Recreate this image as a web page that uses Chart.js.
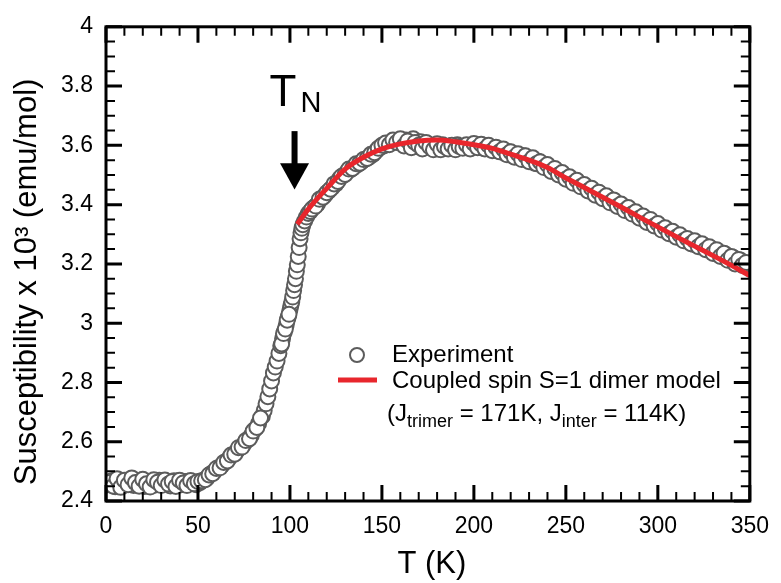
<!DOCTYPE html>
<html>
<head>
<meta charset="utf-8">
<script src="https://cdn.jsdelivr.net/npm/chart.js@4.4.1/dist/chart.umd.min.js"></script>
<style>
  html, body { margin: 0; padding: 0; background: #fff; }
  #wrap { width: 781px; height: 583px; }
</style>
</head>
<body>
<div id="wrap"><canvas id="chiChart" width="781" height="583"></canvas></div>
<script>
// measured susceptibility (T in K, chi x 10^3 emu/mol), two sweeps
const expT = [
  1, 3, 5, 7, 9, 11, 13, 15, 17, 19, 21, 23, 25, 27, 29, 31, 33, 35, 37, 39, 41, 43, 45, 47, 49,
  51, 53, 55, 57, 59, 61, 63, 65, 67, 69, 71, 73, 75, 77, 79, 81, 83, 85,
  86, 87, 88, 89, 90, 91, 92, 93, 94, 95, 96, 97, 98, 99, 100, 100.5, 101, 101.5, 102, 102.5,
  103, 103.5, 104, 104.5, 105, 105.5, 106, 106.5, 107, 108, 109, 110,
  111, 113, 115, 117, 119, 121, 123, 125, 127, 129, 131, 133, 135, 137, 139, 141, 143, 145, 147, 149,
  151, 153, 155, 157, 159, 161, 163, 165, 167, 169, 171, 173, 175, 177, 179, 181, 183, 185, 187, 189,
  191, 193, 195, 197, 199, 201, 203, 205, 207, 209, 211, 213, 215, 217, 219, 221, 223, 225, 227, 229,
  231, 233, 235, 237, 239, 241, 243, 245, 247, 249, 251, 253, 255, 257, 259, 261, 263, 265, 267, 269,
  271, 273, 275, 277, 279, 281, 283, 285, 287, 289, 291, 293, 295, 297, 299, 301, 303, 305, 307, 309,
  311, 313, 315, 317, 319, 321, 323, 325, 327, 329, 331, 333, 335, 337, 339, 341, 343, 345, 347, 349,
  2, 4, 6, 8, 10, 12, 14, 16, 18, 20, 22, 24, 26, 28, 30, 32, 34, 36, 38, 40, 42, 44, 46, 48, 50,
  52, 54, 56, 58, 60, 62, 64, 66, 68, 70, 72, 74, 76, 78, 80, 82, 84,
  95.5, 96.5, 97.5, 98.5, 99.5,
  112, 114, 116, 118, 120, 122, 124, 126, 128, 130, 132, 134, 136, 138, 140, 142, 144, 146, 148, 150,
  152, 154, 156, 158, 160, 162, 164, 166, 168, 170, 172, 174, 176, 178, 180, 182, 184, 186, 188, 190,
  192, 194, 196, 198, 200, 202, 204, 206, 208, 210, 212, 214, 216, 218, 220, 222, 224, 226, 228, 230,
  232, 234, 236, 238, 240, 242, 244, 246, 248, 250, 252, 254, 256, 258, 260, 262, 264, 266, 268, 270,
  272, 274, 276, 278, 280, 282, 284, 286, 288, 290, 292, 294, 296, 298, 300, 302, 304, 306, 308, 310,
  312, 314, 316, 318, 320, 322, 324, 326, 328, 330, 332, 334, 336, 338, 340, 342, 344, 346, 348
];
const expChi = [
  2.455, 2.468, 2.448, 2.472, 2.458, 2.463, 2.470, 2.452, 2.466, 2.459, 2.449, 2.467, 2.461, 2.454, 2.470,
  2.458, 2.463, 2.451, 2.468, 2.460, 2.455, 2.466, 2.457, 2.462, 2.455,
  2.462, 2.470, 2.478, 2.492, 2.500, 2.512, 2.520, 2.532, 2.545, 2.556, 2.568, 2.580, 2.592, 2.606, 2.622,
  2.642, 2.662, 2.686,
  2.705, 2.728, 2.752, 2.778, 2.805, 2.832, 2.852, 2.872, 2.898, 2.924, 2.948, 2.972, 2.995, 3.020, 3.045,
  3.060, 3.072, 3.088, 3.110, 3.130, 3.150, 3.175, 3.197, 3.225, 3.255, 3.285, 3.305, 3.320, 3.332, 3.345,
  3.358, 3.370,
  3.377, 3.390, 3.402, 3.420, 3.432, 3.445, 3.458, 3.470, 3.488, 3.498, 3.510, 3.518, 3.528, 3.535, 3.545,
  3.553, 3.560, 3.568, 3.582, 3.592,
  3.598, 3.603, 3.608, 3.612, 3.615, 3.608, 3.618, 3.600, 3.622, 3.596, 3.612, 3.594, 3.605, 3.590, 3.600,
  3.588, 3.602, 3.592, 3.598, 3.590,
  3.602, 3.593, 3.598, 3.592, 3.598, 3.596, 3.600, 3.590, 3.598, 3.586, 3.592, 3.582, 3.586, 3.572, 3.578,
  3.565, 3.570, 3.558, 3.565, 3.550,
  3.555, 3.540, 3.546, 3.535, 3.530, 3.528, 3.515, 3.515, 3.505, 3.500, 3.488, 3.486, 3.478, 3.474, 3.462,
  3.460, 3.452, 3.448, 3.434, 3.435,
  3.425, 3.422, 3.408, 3.410, 3.398, 3.395, 3.385, 3.382, 3.370, 3.368, 3.358, 3.355, 3.342, 3.342, 3.332,
  3.328, 3.318, 3.315, 3.305, 3.302,
  3.292, 3.290, 3.278, 3.276, 3.266, 3.270, 3.262, 3.262, 3.250, 3.252, 3.240, 3.242, 3.228, 3.232, 3.218,
  3.222, 3.208, 3.212, 3.198, 3.200,
  2.462, 2.450, 2.475, 2.446, 2.470, 2.455, 2.478, 2.462, 2.450, 2.473, 2.458, 2.447, 2.472, 2.463, 2.452,
  2.471, 2.457, 2.466, 2.449, 2.470, 2.461, 2.452, 2.469, 2.458, 2.466,
  2.468, 2.472, 2.488, 2.492, 2.510, 2.512, 2.530, 2.535, 2.555, 2.558, 2.580, 2.582, 2.604, 2.610, 2.636,
  2.648, 2.680,
  2.930, 2.965, 2.980, 3.010, 3.030,
  3.385, 3.395, 3.418, 3.425, 3.440, 3.452, 3.470, 3.478, 3.495, 3.502, 3.520, 3.522, 3.538, 3.540, 3.552,
  3.556, 3.570, 3.575, 3.590, 3.600,
  3.608, 3.602, 3.618, 3.610, 3.622, 3.598, 3.615, 3.592, 3.610, 3.600, 3.588, 3.610, 3.595, 3.585, 3.605,
  3.585, 3.596, 3.588, 3.600, 3.585,
  3.596, 3.590, 3.602, 3.588, 3.606, 3.592, 3.604, 3.588, 3.600, 3.582, 3.594, 3.578, 3.588, 3.568, 3.578,
  3.560, 3.572, 3.552, 3.565, 3.545,
  3.558, 3.538, 3.545, 3.525, 3.535, 3.512, 3.522, 3.500, 3.508, 3.486, 3.494, 3.472, 3.482, 3.460, 3.468,
  3.446, 3.455, 3.432, 3.442, 3.420,
  3.430, 3.406, 3.416, 3.394, 3.402, 3.380, 3.390, 3.368, 3.376, 3.354, 3.362, 3.340, 3.350, 3.328, 3.336,
  3.314, 3.322, 3.302, 3.310, 3.290,
  3.298, 3.278, 3.286, 3.268, 3.278, 3.258, 3.268, 3.248, 3.258, 3.235, 3.248, 3.225, 3.236, 3.212, 3.225,
  3.200, 3.215, 3.195, 3.205
];

// coupled spin S=1 dimer model curve
const fitT = [104, 110, 120, 130, 140, 150, 160, 170, 180, 190, 200, 210, 220, 230, 240,
  250, 260, 270, 280, 290, 300, 310, 320, 330, 340, 350];
const fitChi = [3.334, 3.385, 3.455, 3.520, 3.560, 3.588, 3.605, 3.615, 3.618, 3.612, 3.602, 3.590,
  3.570, 3.550, 3.525, 3.490, 3.458, 3.425, 3.392, 3.358, 3.325, 3.292, 3.260, 3.228, 3.195, 3.160];

const xTicks = [0, 50, 100, 150, 200, 250, 300, 350];
const yTicks = [2.4, 2.6, 2.8, 3, 3.2, 3.4, 3.6, 3.8, 4];
const yTickLabels = ['2.4', '2.6', '2.8', '3', '3.2', '3.4', '3.6', '3.8', '4'];
const xTitle = 'T (K)';
const yTitle = 'Susceptibility x 10³ (emu/mol)';
const TN = 102.5;

const FONT = '"Liberation Sans", Arial, Helvetica, sans-serif';

// box with inward ticks on all four sides, plus the axis titles
const frame = {
  id: 'frame',
  afterDraw(chart) {
    const { ctx, chartArea: a, scales: { x, y } } = chart;
    ctx.save();
    ctx.strokeStyle = '#000';
    ctx.lineWidth = 2;
    ctx.beginPath();
    for (let v = 10; v < 350; v += 10) {
      if (v % 50 === 0) continue;
      const px = x.getPixelForValue(v);
      ctx.moveTo(px, a.bottom); ctx.lineTo(px, a.bottom - 9);
      ctx.moveTo(px, a.top); ctx.lineTo(px, a.top + 9);
    }
    for (let k = 1; k < 32; k++) {
      if (k % 4 === 0) continue;
      const py = y.getPixelForValue(2.4 + k * 0.05);
      ctx.moveTo(a.left, py); ctx.lineTo(a.left + 9, py);
      ctx.moveTo(a.right, py); ctx.lineTo(a.right - 9, py);
    }
    ctx.stroke();

    ctx.lineWidth = 3;
    ctx.beginPath();
    xTicks.forEach(v => {
      const px = x.getPixelForValue(v);
      ctx.moveTo(px, a.bottom); ctx.lineTo(px, a.bottom - 16);
      ctx.moveTo(px, a.top); ctx.lineTo(px, a.top + 16);
    });
    yTicks.forEach(v => {
      const py = y.getPixelForValue(v);
      ctx.moveTo(a.left, py); ctx.lineTo(a.left + 16, py);
      ctx.moveTo(a.right, py); ctx.lineTo(a.right - 16, py);
    });
    ctx.stroke();
    ctx.strokeRect(a.left, a.top, a.right - a.left, a.bottom - a.top);

    ctx.fillStyle = '#000';
    ctx.font = '31px ' + FONT;
    ctx.textAlign = 'center';
    ctx.textBaseline = 'middle';
    ctx.fillText(xTitle, (a.left + a.right) / 2 + 4, 564);
    ctx.translate(27, (a.top + a.bottom) / 2 + 18);
    ctx.rotate(-Math.PI / 2);
    ctx.fillText(yTitle, 0, 0);
    ctx.restore();
  }
};

// T_N arrow and the legend box
const notes = {
  id: 'notes',
  afterDraw(chart) {
    const { ctx, scales: { x, y } } = chart;
    ctx.save();
    ctx.fillStyle = '#000';
    ctx.textBaseline = 'alphabetic';

    const ax = x.getPixelForValue(TN);
    ctx.font = '44px ' + FONT;
    ctx.fillText('T', ax - 25, y.getPixelForValue(3.732));
    ctx.font = '29px ' + FONT;
    ctx.fillText('N', ax + 6, y.getPixelForValue(3.713));

    const top = y.getPixelForValue(3.648);
    const headTop = y.getPixelForValue(3.54);
    const tip = y.getPixelForValue(3.451);
    ctx.fillRect(ax - 3, top, 6, headTop - top + 2);
    ctx.beginPath();
    ctx.moveTo(ax - 14.5, headTop);
    ctx.lineTo(ax + 14.5, headTop);
    ctx.lineTo(ax, tip);
    ctx.closePath();
    ctx.fill();

    // legend
    ctx.beginPath();
    ctx.arc(357, 355, 7, 0, Math.PI * 2);
    ctx.fillStyle = '#fff';
    ctx.fill();
    ctx.lineWidth = 2;
    ctx.strokeStyle = '#5c5c5c';
    ctx.stroke();

    ctx.beginPath();
    ctx.moveTo(338, 380);
    ctx.lineTo(377, 380);
    ctx.lineWidth = 5;
    ctx.strokeStyle = '#e8262c';
    ctx.stroke();

    ctx.fillStyle = '#000';
    ctx.font = '24px ' + FONT;
    ctx.textBaseline = 'middle';
    ctx.fillText('Experiment', 392, 355);
    ctx.fillText('Coupled spin S=1 dimer model', 392, 381);

    ctx.textBaseline = 'alphabetic';
    const parts = [
      ['(J', 0, 24], ['trimer', 6, 18], [' = 171K, J', 0, 24], ['inter', 6, 18], [' = 114K)', 0, 24]
    ];
    let tx = 387;
    parts.forEach(([txt, dy, size]) => {
      ctx.font = size + 'px ' + FONT;
      ctx.fillText(txt, tx, 421 + dy);
      tx += ctx.measureText(txt).width;
    });
    ctx.restore();
  }
};

const expPoints = expT.map((t, i) => ({ x: t, y: expChi[i] }));
const fitPoints = fitT.map((t, i) => ({ x: t, y: fitChi[i] }));

new Chart(document.getElementById('chiChart'), {
  type: 'scatter',
  data: {
    datasets: [
      {
        type: 'line',
        label: 'Coupled spin S=1 dimer model',
        data: fitPoints,
        borderColor: '#e8262c',
        borderWidth: 5,
        pointRadius: 0,
        fill: false,
        cubicInterpolationMode: 'monotone',
        order: 0
      },
      {
        label: 'Experiment',
        data: expPoints,
        pointRadius: 7.5,
        pointHoverRadius: 7.5,
        pointBorderWidth: 2,
        pointBorderColor: '#5c5c5c',
        pointBackgroundColor: '#fff',
        order: 1
      }
    ]
  },
  options: {
    responsive: false,
    animation: false,
    devicePixelRatio: 1,
    layout: { padding: { left: 0, right: 21, top: 23, bottom: 0 } },
    plugins: { legend: { display: false }, tooltip: { enabled: false } },
    scales: {
      x: {
        type: 'linear',
        min: 0,
        max: 350,
        afterBuildTicks: s => { s.ticks = xTicks.map(v => ({ value: v })); },
        afterFit: s => { s.height = 82; },
        grid: { display: false, drawTicks: false },
        border: { display: false },
        ticks: {
          padding: 12,
          maxRotation: 0,
          autoSkip: false,
          color: '#000',
          font: { family: FONT, size: 23 },
          callback: v => String(v)
        }
      },
      y: {
        type: 'linear',
        min: 2.4,
        max: 4,
        afterBuildTicks: s => { s.ticks = yTicks.map(v => ({ value: v })); },
        afterFit: s => { s.width = 106; },
        grid: { display: false, drawTicks: false },
        border: { display: false },
        ticks: {
          padding: 13,
          autoSkip: false,
          color: '#000',
          font: { family: FONT, size: 23 },
          callback: (v, i) => yTickLabels[i]
        }
      }
    }
  },
  plugins: [frame, notes]
});
</script>
</body>
</html>
